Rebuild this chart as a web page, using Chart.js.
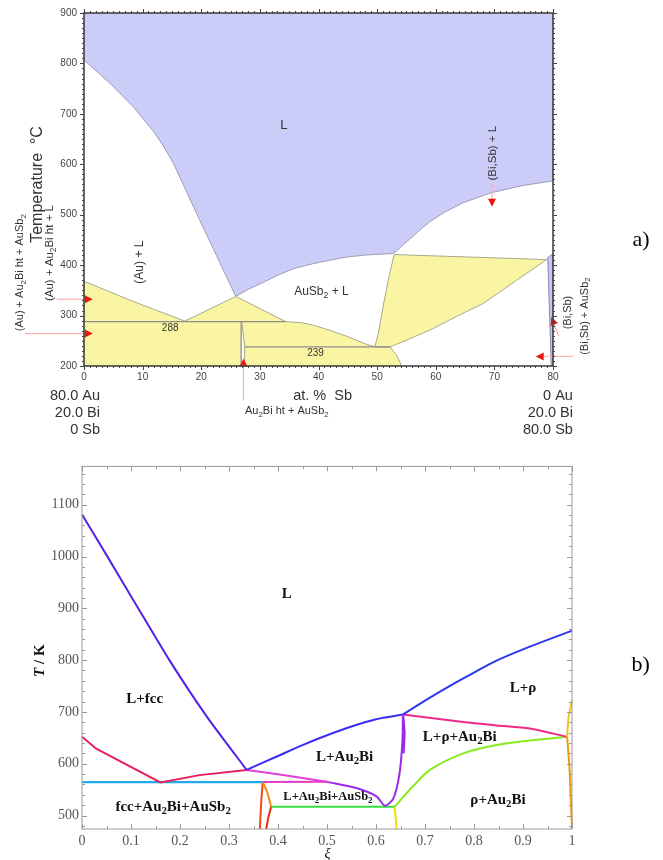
<!DOCTYPE html>
<html>
<head>
<meta charset="utf-8">
<script src="https://cdn.jsdelivr.net/npm/chart.js@4.4.1/dist/chart.umd.min.js"></script>
<style>
  body { margin: 0; background: #fff; }
  canvas { position: absolute; left: 0; }
</style>
</head>
<body>
<canvas id="chartA" width="663" height="450" style="top:0"></canvas>
<canvas id="chartB" width="663" height="405" style="top:455px"></canvas>
<script>
// ===== a) разрез Au-Bi-Sb при 20 ат.% Bi =====
const xTicksA = [0, 10, 20, 30, 40, 50, 60, 70, 80];
const yTicksA = [200, 300, 400, 500, 600, 700, 800, 900];

// жидкость L (голубая область)
const liquidA = [[0,900],[80,900],[80,567],[74.9,558],[69.6,544],[64.7,524],[61.5,505],[59,486],[57.5,472],
  [56.1,457],[54.5,441],[53.3,428],[52.7,423],[48,420],[44.8,416],[42,410],[39.1,403],[36,394],[33.4,382],
  [30.6,366],[28,352],[25.9,338],[22.6,419],[19.3,500],[17.2,553],[15.2,603],[13.5,637],[11.8,666],
  [8.4,714],[4.4,761],[0,807],[0,900]];
// твёрдый (Bi,Sb) у правого края
const solidBiSb = [[79.1,415],[80,423],[80,200],[79.7,200],[79.1,415]];
// жёлтые трёхфазные области
const yellowLow = [[0,200],[0,368],[8.4,328],[17.2,289],[25.9,338],[34.4,288],[37,286],[39.1,281],[41.9,271],
  [44.8,259],[46.5,251],[48.2,243],[49.6,238],[52.2,238],[53.4,220],[54.2,200],[27.4,200],[27.4,239],
  [26.9,288],[26.8,200],[0,200]];
const yellowRight = [[49.6,238],[50.2,264],[51.0,317],[51.9,370],[52.9,421],[78.9,411],[73.8,370],[68.1,324],
  [63.5,298],[59.5,274],[55,251],[52.2,238],[49.6,238]];
// изотермы 288 и 239
const line288 = [[0,288],[34.4,288]];
const line239 = [[27.4,238],[52.2,238]];

const labelsA = [
  {t: 'L', x: 34.1, y: 678, size: 13},
  {t: 'AuSb_2 + L', x: 40.5, y: 347, size: 12},
  {t: '(Au) + L', x: 9.55, y: 406, size: 12, rot: true},
  {t: '288', x: 14.7, y: 274, size: 10},
  {t: '239', x: 39.5, y: 226, size: 10},
  {t: '(Bi,Sb) + L', x: 69.8, y: 622, size: 11.5, rot: true},
  {t: '(Bi,Sb)', x: 82.6, y: 306, size: 11, rot: true},
  {t: '(Bi,Sb) + AuSb_2', x: 85.4, y: 299, size: 11, rot: true},
  {t: 'Temperature  °C', x: -8.0, y: 560, size: 16, rot: true},
  {t: '(Au) + Au_2Bi ht + L', x: -5.8, y: 424, size: 11.5, rot: true},
  {t: '(Au) + Au_2Bi ht + AuSb_2', x: -10.9, y: 385, size: 11, rot: true},
  {t: '80.0 Au', x: 2.73, y: 140, size: 14.5, align: 'right'},
  {t: '20.0 Bi', x: 2.73, y: 107, size: 14.5, align: 'right'},
  {t: '0 Sb', x: 2.73, y: 73, size: 14.5, align: 'right'},
  {t: 'at. %  Sb', x: 40.7, y: 140, size: 14.5},
  {t: '0 Au', x: 83.4, y: 140, size: 14.5, align: 'right'},
  {t: '20.0 Bi', x: 83.4, y: 107, size: 14.5, align: 'right'},
  {t: '80.0 Sb', x: 83.4, y: 73, size: 14.5, align: 'right'},
  {t: 'Au_2Bi ht + AuSb_2', x: 34.6, y: 110, size: 11},
  {t: 'a)', x: 95, y: 450, size: 22, family: 'Liberation Serif', color: '#000'}
];
const arrowsA = [
  {from: [-4.65, 332.5], to: [1.5, 332.5]},
  {from: [-10.06, 264.3], to: [1.5, 264.3]},
  {from: [27.2, 131.8], to: [27.2, 215]},
  {from: [81.0, 259], to: [79.7, 297]},
  {from: [83.4, 219], to: [77.05, 219]},
  {from: [69.6, 562], to: [69.6, 516]}
];

// ===== b) расчётная диаграмма, T / K от ξ =====
const xTicksB = [0, 0.1, 0.2, 0.3, 0.4, 0.5, 0.6, 0.7, 0.8, 0.9, 1];
const yTicksB = [500, 600, 700, 800, 900, 1000, 1100];

const liqLeft = [[0,1081],[0.055,995],[0.111,906],[0.177,802],[0.254,692],[0.336,588]];
const liqMid = [[0.336,588],[0.40,615],[0.45,636],[0.50,655],[0.55,672],[0.60,686],[0.655,695]];
const liqRight = [[0.655,695],[0.70,722],[0.75,750],[0.80,776],[0.846,799],[0.914,826],[1,857]];
const fccSolvus = [[0,652],[0.029,629],[0.16,564],[0.24,578],[0.336,588]];
const magentaDown = [[0.336,588],[0.42,577],[0.5,565]];
const magentaFlat = [[0.369,564.5],[0.5,565]];
const purpleCurve = [[0.5,565],[0.56,553],[0.601,537],[0.618,519],[0.635,532],[0.648,581],[0.654,645],[0.655,695]];
const purpleThick = [[0.655,695],[0.658,660],[0.656,620]];
const cyanLine = [[0,564.5],[0.369,564.5]];
const orangeLeft = [[0.369,564],[0.366,530],[0.363,474]];
const orangeRight = [[0.369,564],[0.378,545],[0.386,517]];
const redLow = [[0.386,517],[0.38,495],[0.376,474]];
const greenFlat = [[0.386,517],[0.638,517]];
const limeCurve = [[0.638,517],[0.675,556],[0.71,588],[0.778,620],[0.846,636],[0.914,645],[0.99,652]];
const yellowLine = [[0.638,517],[0.642,474]];
const pinkCurve = [[0.655,695],[0.778,680.5],[0.846,674],[0.914,668],[0.99,652]];
const edgeUpper = [[1,722],[0.993,690],[0.99,652]];
const edgeLower = [[0.99,652],[0.995,590],[1,474]];

const labelsB = [
  {t: 'L', x: 0.418, y: 927},
  {t: 'L+fcc', x: 0.128, y: 725},
  {t: 'L+ρ', x: 0.9, y: 745},
  {t: 'L+Au_2Bi', x: 0.536, y: 613},
  {t: 'L+ρ+Au_2Bi', x: 0.771, y: 652},
  {t: 'fcc+Au_2Bi+AuSb_2', x: 0.186, y: 517},
  {t: 'L+Au_2Bi+AuSb_2', x: 0.502, y: 536, size: 12.5},
  {t: 'ρ+Au_2Bi', x: 0.849, y: 530},
  {t: 'ξ', x: 0.501, y: 426, size: 14, style: 'italic', weight: 'normal'},
  {parts: [{s: 'T', style: 'italic'}, {s: ' / K'}], x: -0.0863, y: 799, rot: true},
  {t: 'b)', x: 1.14, y: 790, size: 22, weight: 'normal', color: '#000'}
];

// ---- вспомогательное ----
function pts(arr) {
  return arr.map(p => ({x: p[0], y: p[1]}));
}
function polyDs(arr, fillColor, lineColor) {
  return {data: pts(arr), showLine: true, fill: 'shape', backgroundColor: fillColor,
    borderColor: lineColor, borderWidth: 1, pointRadius: 0, tension: 0};
}
function lineDs(arr, color, width, tension) {
  return {data: pts(arr), showLine: true, fill: false, borderColor: color, borderWidth: width,
    pointRadius: 0, tension: tension || 0, clip: false};
}
function fontStr(f) {
  return (f.style || '') + ' ' + (f.weight || 'normal') + ' ' + f.size + 'px "' + f.family + '"';
}
// 'Au_2Bi' -> Au, индекс 2, Bi
function richParts(str) {
  let parts = [];
  str.split(/(_\d)/).forEach(p => {
    if (!p) return;
    if (p[0] === '_') parts.push({s: p.slice(1), sub: true});
    else parts.push({s: p});
  });
  return parts;
}
function drawRich(ctx, parts, x, y, font, align) {
  let w = 0;
  parts.forEach(p => {
    p.f = Object.assign({}, font, p.style ? {style: p.style} : {}, p.sub ? {size: font.size * 0.72} : {});
    ctx.font = fontStr(p.f);
    p.w = ctx.measureText(p.s).width;
    w += p.w;
  });
  let cx = align === 'right' ? x - w : (align === 'left' ? x : x - w / 2);
  ctx.textAlign = 'left';
  ctx.textBaseline = 'middle';
  parts.forEach(p => {
    ctx.font = fontStr(p.f);
    ctx.fillText(p.s, cx, y + (p.sub ? font.size * 0.3 : 0));
    cx += p.w;
  });
}

// подписи и стрелки
const notesPlugin = {
  id: 'notes',
  afterDatasetsDraw(chart, args, o) {
    const {ctx} = chart;
    const sx = chart.scales.x, sy = chart.scales.y;
    ctx.save();
    (o.arrows || []).forEach(a => {
      let x1 = sx.getPixelForValue(a.from[0]), y1 = sy.getPixelForValue(a.from[1]);
      let x2 = sx.getPixelForValue(a.to[0]), y2 = sy.getPixelForValue(a.to[1]);
      let ang = Math.atan2(y2 - y1, x2 - x1);
      ctx.strokeStyle = '#ffb0b0';
      ctx.lineWidth = 1.2;
      ctx.beginPath();
      ctx.moveTo(x1, y1);
      ctx.lineTo(x2 - 6 * Math.cos(ang), y2 - 6 * Math.sin(ang));
      ctx.stroke();
      ctx.fillStyle = '#ee1515';
      ctx.beginPath();
      ctx.moveTo(x2, y2);
      ctx.lineTo(x2 - 8 * Math.cos(ang) + 4 * Math.sin(ang), y2 - 8 * Math.sin(ang) - 4 * Math.cos(ang));
      ctx.lineTo(x2 - 8 * Math.cos(ang) - 4 * Math.sin(ang), y2 - 8 * Math.sin(ang) + 4 * Math.cos(ang));
      ctx.closePath();
      ctx.fill();
    });
    (o.labels || []).forEach(l => {
      let px = sx.getPixelForValue(l.x), py = sy.getPixelForValue(l.y);
      let font = {family: l.family || o.family, size: l.size || o.size, weight: l.weight || o.weight, style: l.style};
      let parts = l.parts ? l.parts.map(p => Object.assign({}, p)) : richParts(l.t);
      ctx.fillStyle = l.color || o.color;
      ctx.save();
      ctx.translate(px, py);
      if (l.rot) ctx.rotate(-Math.PI / 2);
      drawRich(ctx, parts, 0, 0, font, l.align);
      ctx.restore();
    });
    ctx.restore();
  }
};

// рамка и штрихи на всех четырёх сторонах
function steps(min, max, step) {
  let out = [];
  let n = Math.round((max - min) / step);
  for (let i = 0; i <= n; i++) out.push(min + i * step);
  return out;
}
const framePlugin = {
  id: 'frame',
  afterDraw(chart, args, o) {
    const {ctx, chartArea: a} = chart;
    const sx = chart.scales.x, sy = chart.scales.y;
    const d = o.inside ? -1 : 1;
    ctx.save();
    ctx.strokeStyle = o.color;
    ctx.lineWidth = 1;
    const seg = (x1, y1, x2, y2) => { ctx.beginPath(); ctx.moveTo(x1, y1); ctx.lineTo(x2, y2); ctx.stroke(); };
    const xt = (vals, len) => vals.forEach(v => {
      let px = Math.round(sx.getPixelForValue(v)) + 0.5;
      seg(px, a.bottom, px, a.bottom + d * len);
      seg(px, a.top, px, a.top - d * len);
    });
    const yt = (vals, len) => vals.forEach(v => {
      let py = Math.round(sy.getPixelForValue(v)) + 0.5;
      seg(a.left, py, a.left - d * len, py);
      seg(a.right, py, a.right + d * len, py);
    });
    xt(o.xMinor, o.minorLen);
    xt(o.xMajor, o.majorLen);
    yt(o.yMinor, o.minorLen);
    yt(o.yMajor, o.majorLen);
    ctx.lineWidth = o.width;
    ctx.strokeRect(a.left, a.top, a.right - a.left, a.bottom - a.top);
    ctx.restore();
  }
};

// ---- график a) ----
let chartA = new Chart(document.getElementById('chartA'), {
  type: 'scatter',
  data: {
    datasets: [
      lineDs(line288, '#8c8c8c', 1.3),
      lineDs(line239, '#8c8c8c', 1.3),
      polyDs(solidBiSb, '#c6c6f4', '#8a8ab8'),
      polyDs(yellowRight, '#f9f5a2', '#a9a98e'),
      polyDs(yellowLow, '#f9f5a2', '#a9a98e'),
      polyDs(liquidA, '#ccccf9', '#9c9cb6')
    ]
  },
  options: {
    responsive: false,
    animation: false,
    layout: {padding: {left: 0, right: 110, top: 13, bottom: 0}},
    scales: {
      x: {
        type: 'linear', min: 0, max: 80,
        afterBuildTicks: s => { s.ticks = xTicksA.map(v => ({value: v})); },
        afterFit: s => { s.height = 84; },
        grid: {display: false, drawTicks: false},
        border: {display: false},
        ticks: {padding: 5, color: '#444', autoSkip: false, maxRotation: 0,
          font: {family: 'Liberation Sans', size: 10}}
      },
      y: {
        type: 'linear', min: 200, max: 900,
        afterBuildTicks: s => { s.ticks = yTicksA.map(v => ({value: v})); },
        afterFit: s => { s.width = 84; },
        grid: {display: false, drawTicks: false},
        border: {display: false},
        ticks: {padding: 7, color: '#444', font: {family: 'Liberation Sans', size: 10}}
      }
    },
    plugins: {
      legend: {display: false},
      tooltip: {enabled: false},
      notes: {labels: labelsA, arrows: arrowsA, family: 'Liberation Sans', size: 12, weight: 'normal', color: '#333'},
      frame: {color: '#444', width: 1.6, inside: false, minorLen: 2, majorLen: 4,
        xMajor: xTicksA, xMinor: steps(0, 80, 1), yMajor: yTicksA, yMinor: steps(200, 900, 10)}
    }
  },
  plugins: [notesPlugin, framePlugin]
});

// ---- график b) ----
let chartB = new Chart(document.getElementById('chartB'), {
  type: 'scatter',
  data: {
    datasets: [
      lineDs(edgeUpper, '#f5c030', 2, 0.2),
      lineDs(edgeLower, '#f09a10', 2, 0.2),
      lineDs(yellowLine, '#f2e000', 2),
      lineDs(purpleThick, '#9a2ae8', 2.5),
      lineDs(purpleCurve, '#9a2ae8', 2, 0.25),
      lineDs(liqLeft, '#5322e6', 2, 0.2),
      lineDs(liqMid, '#3a2cf0', 2, 0.3),
      lineDs(liqRight, '#2e36f0', 2, 0.3),
      lineDs(pinkCurve, '#f02a8a', 2, 0.25),
      lineDs(limeCurve, '#86ec20', 2, 0.3),
      lineDs(greenFlat, '#34e040', 2),
      lineDs(redLow, '#e82a10', 2, 0.2),
      lineDs(orangeRight, '#f08a1a', 2, 0.2),
      lineDs(orangeLeft, '#f04a10', 2, 0.2),
      lineDs(magentaFlat, '#e838c8', 2),
      lineDs(magentaDown, '#e040d8', 2, 0.2),
      lineDs(fccSolvus, '#e8205a', 2),
      lineDs(cyanLine, '#22aaee', 2.2)
    ]
  },
  options: {
    responsive: false,
    animation: false,
    layout: {padding: {left: 0, right: 91, top: 10, bottom: 0}},
    scales: {
      x: {
        type: 'linear', min: 0, max: 1,
        afterBuildTicks: s => { s.ticks = xTicksB.map(v => ({value: v})); },
        afterFit: s => { s.height = 31; },
        grid: {display: false, drawTicks: false},
        border: {display: false},
        ticks: {padding: 4, color: '#555', autoSkip: false, maxRotation: 0,
          callback: v => String(Math.round(v * 10) / 10),
          font: {family: 'Liberation Serif', size: 14}}
      },
      y: {
        type: 'linear', min: 474, max: 1174,
        afterBuildTicks: s => { s.ticks = yTicksB.map(v => ({value: v})); },
        afterFit: s => { s.width = 82; },
        grid: {display: false, drawTicks: false},
        border: {display: false},
        ticks: {padding: 3, color: '#555', callback: v => String(v),
          font: {family: 'Liberation Serif', size: 14}}
      }
    },
    plugins: {
      legend: {display: false},
      tooltip: {enabled: false},
      notes: {labels: labelsB, family: 'Liberation Serif', size: 15, weight: 'bold', color: '#111'},
      frame: {color: '#9a9a9a', width: 1, inside: true, minorLen: 3, majorLen: 5,
        xMajor: xTicksB, xMinor: steps(0, 1, 0.05), yMajor: yTicksB, yMinor: steps(480, 1160, 20)}
    }
  },
  plugins: [notesPlugin, framePlugin]
});
</script>
</body>
</html>
